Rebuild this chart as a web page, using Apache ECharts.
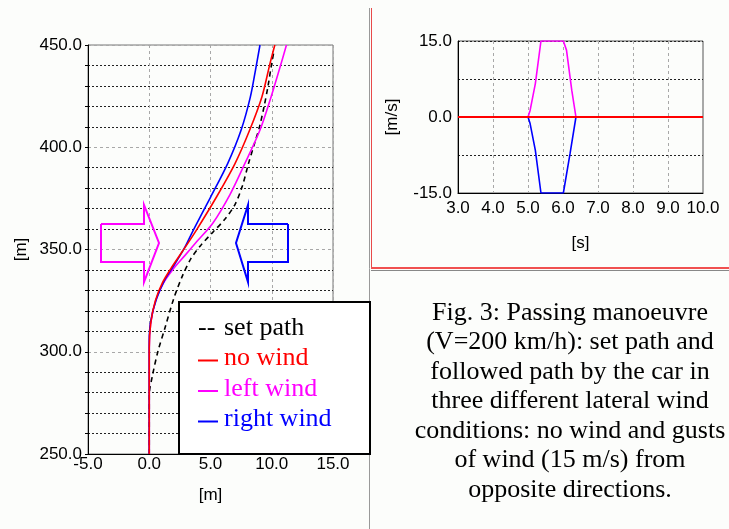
<!DOCTYPE html>
<html>
<head>
<meta charset="utf-8">
<script src="https://cdn.jsdelivr.net/npm/echarts@6/dist/echarts.min.js"></script>
<style>
  html, body { margin: 0; padding: 0; background: #fcfdfb; }
  #chart { width: 729px; height: 529px; }
</style>
</head>
<body>
<div id="chart"></div>
<script>
// left plot: path [x m, y m]
const setPath = [[0,250],[0,279],[0.25,288],[0.7,300],[1.3,312],[2.0,326],[2.7,337],[3.4,345.5],[4.2,352],[5.2,358.5],[6.2,365],[7.0,372],[7.6,381],[8.1,392],[8.55,401],[8.98,409.5],[9.37,419.8],[9.7,430],[9.97,440],[10.2,447.6]];
const noWind = [[0,250],[0,302],[0.12,314],[0.5,325],[1.1,334],[1.8,341],[2.7,349],[3.85,359.5],[5.5,375.8],[7,392],[8.2,408.4],[9.2,424.7],[9.86,441],[10.25,450]];
const leftWind = [[0,250],[0,302],[0.12,314],[0.5,324.5],[1.1,333],[1.9,340],[2.9,347],[3.9,354],[5.2,363],[6.6,377],[7.8,392],[9.04,408.4],[9.95,424.7],[10.62,438],[11.2,450]];
const rightWind = [[0,250],[0,305],[0.12,315],[0.6,326],[1.3,335.5],[2.1,343],[2.9,351],[3.6,359.5],[5.0,375.5],[6.4,392],[7.5,408.4],[8.25,424.5],[8.68,438],[9.04,450]];

// right plot: wind speed [t s, v m/s]
const gustLeft = [[3,0],[5,0],[5.06,1.3],[5.21,6.6],[5.37,15],[6.01,15],[6.1,13.2],[6.25,5.3],[6.37,0],[10,0]];
const gustRight = [[3,0],[5,0],[5.06,-1.3],[5.21,-6.6],[5.37,-15],[6.01,-15],[6.2,-7.3],[6.37,0],[10,0]];
const gustNone = [[3,0],[10,0]];

const legendRows = [
  { name: 'set path', color: '#000000', dash: true },
  { name: 'no wind', color: '#ff0000' },
  { name: 'left wind', color: '#ff00ff' },
  { name: 'right wind', color: '#0000ff' }
];
const caption = 'Fig. 3: Passing manoeuvre\n(V=200 km/h): set path and\nfollowed path by the car in\nthree different lateral wind\nconditions: no wind and gusts\nof wind (15 m/s) from\nopposite directions.';

const sans = '"Liberation Sans", Arial, sans-serif';
const serif = '"Liberation Serif", "Times New Roman", serif';
const grey = { color: '#a8a8a8', type: [3, 3], width: 1 };
const dots = { color: '#222', type: [2, 2], width: 1 };
const lbl = { color: '#000', fontFamily: sans, fontSize: 17 };
const nameStyle = { color: '#000', fontFamily: sans, fontSize: 17 };

const chart = echarts.init(document.getElementById('chart'));

const legendGraphics = [{
  type: 'rect', shape: { x: 179, y: 302, width: 191, height: 152 },
  style: { fill: '#fff', stroke: '#000', lineWidth: 2 }, z: 100
}];
legendRows.forEach((r, i) => {
  const y = 328 + i * 30.5;
  if (r.dash) {
    legendGraphics.push({ type: 'text', x: 198, y: y, z: 101,
      style: { text: '--', fill: r.color, font: '26px ' + serif, textVerticalAlign: 'middle' } });
  } else {
    legendGraphics.push({ type: 'line', z: 101, shape: { x1: 198, y1: y + 2, x2: 218, y2: y + 2 },
      style: { stroke: r.color, lineWidth: 2 } });
  }
  legendGraphics.push({ type: 'text', x: 224, y: y, z: 101,
    style: { text: r.name, fill: r.color, font: '26px ' + serif, textVerticalAlign: 'middle' } });
});

const arrows = [
  { type: 'polyline', z: 50, shape: { points: [[101,224],[144,224],[144,205],[159,243],[144,282],[144,262],[101,262],[101,224]] },
    style: { stroke: '#ff00ff', lineWidth: 2, fill: 'none' } },
  { type: 'polyline', z: 50, shape: { points: [[288,224],[248,224],[248,205],[236,243],[248,282],[248,262],[288,262],[288,224]] },
    style: { stroke: '#0000ff', lineWidth: 2, fill: 'none' } }
];

const frame = [
  { type: 'line', shape: { x1: 369.5, y1: 8, x2: 369.5, y2: 529 }, style: { stroke: '#999', lineWidth: 1 } },
  { type: 'line', shape: { x1: 371.5, y1: 8, x2: 371.5, y2: 268 }, style: { stroke: '#e84a4a', lineWidth: 1 } },
  { type: 'line', shape: { x1: 371, y1: 268, x2: 729, y2: 268 }, style: { stroke: '#f05050', lineWidth: 2 } },
  { type: 'line', shape: { x1: 371, y1: 270.5, x2: 729, y2: 270.5 }, style: { stroke: '#888', lineWidth: 1 } }
];

chart.setOption({
  backgroundColor: '#fcfdfb',
  animation: false,
  grid: [
    { left: 88, top: 45, width: 245, height: 409, show: true, borderColor: '#777', borderWidth: 1 },
    { left: 458, top: 41, width: 245, height: 152, show: true, borderColor: '#555', borderWidth: 1 }
  ],
  xAxis: [
    { gridIndex: 0, type: 'value', min: -5, max: 15, interval: 5,
      name: '[m]', nameLocation: 'middle', nameGap: 33, nameTextStyle: nameStyle,
      axisLine: { show: true, onZero: false, lineStyle: { color: '#000' } }, axisTick: { show: false },
      axisLabel: Object.assign({ margin: 2, formatter: v => v.toFixed(1) }, lbl),
      splitLine: { show: true, lineStyle: grey } },
    { gridIndex: 1, type: 'value', min: 3, max: 10, interval: 1,
      name: '[s]', nameLocation: 'middle', nameGap: 42, nameTextStyle: nameStyle,
      axisLine: { show: true, onZero: false, lineStyle: { color: '#000' } }, axisTick: { show: false },
      axisLabel: Object.assign({ margin: 7, formatter: v => v.toFixed(1) }, lbl),
      splitLine: { show: true, lineStyle: grey } }
  ],
  yAxis: [
    { gridIndex: 0, type: 'value', min: 250, max: 450, interval: 50,
      name: '[m]', nameLocation: 'middle', nameGap: 58, nameTextStyle: nameStyle,
      axisLine: { show: true, onZero: false, lineStyle: { color: '#000' } },
      axisTick: { show: true, length: 3, lineStyle: { color: '#000' } },
      minorTick: { show: true, splitNumber: 5, length: 3, lineStyle: { color: '#000' } },
      axisLabel: Object.assign({ margin: 6, formatter: v => v.toFixed(1) }, lbl),
      splitLine: { show: true, lineStyle: grey },
      minorSplitLine: { show: true, lineStyle: dots } },
    { gridIndex: 1, type: 'value', min: -15, max: 15, interval: 7.5,
      name: '[m/s]', nameLocation: 'middle', nameGap: 57, nameTextStyle: nameStyle,
      axisLine: { show: true, onZero: false, lineStyle: { color: '#000' } }, axisTick: { show: false },
      axisLabel: Object.assign({ margin: 6, formatter: v => (v % 15 === 0 ? v.toFixed(1) : '') }, lbl),
      splitLine: { show: true, lineStyle: dots } }
  ],
  series: [
    { type: 'line', xAxisIndex: 0, yAxisIndex: 0, data: setPath, smooth: 0.3, symbol: 'none',
      lineStyle: { color: '#000', width: 1.6, type: [5, 4] }, z: 5 },
    { type: 'line', xAxisIndex: 0, yAxisIndex: 0, data: leftWind, smooth: 0.3, symbol: 'none',
      lineStyle: { color: '#ff00ff', width: 1.6 }, z: 6 },
    { type: 'line', xAxisIndex: 0, yAxisIndex: 0, data: rightWind, smooth: 0.3, symbol: 'none',
      lineStyle: { color: '#0000ff', width: 1.6 }, z: 7 },
    { type: 'line', xAxisIndex: 0, yAxisIndex: 0, data: noWind, smooth: 0.3, symbol: 'none',
      lineStyle: { color: '#ff0000', width: 1.6 }, z: 8 },
    { type: 'line', xAxisIndex: 1, yAxisIndex: 1, data: gustLeft, symbol: 'none',
      lineStyle: { color: '#ff00ff', width: 1.6 }, z: 5 },
    { type: 'line', xAxisIndex: 1, yAxisIndex: 1, data: gustRight, symbol: 'none',
      lineStyle: { color: '#0000ff', width: 1.6 }, z: 6 },
    { type: 'line', xAxisIndex: 1, yAxisIndex: 1, data: gustNone, symbol: 'none',
      lineStyle: { color: '#ff0000', width: 2 }, z: 7 }
  ],
  graphic: [].concat(frame, arrows, legendGraphics, [
    { type: 'text', x: 570, y: 298, style: { text: caption, fill: '#000', font: '26px ' + serif,
      textAlign: 'center', lineHeight: 29.5 } }
  ])
});
</script>
</body>
</html>
